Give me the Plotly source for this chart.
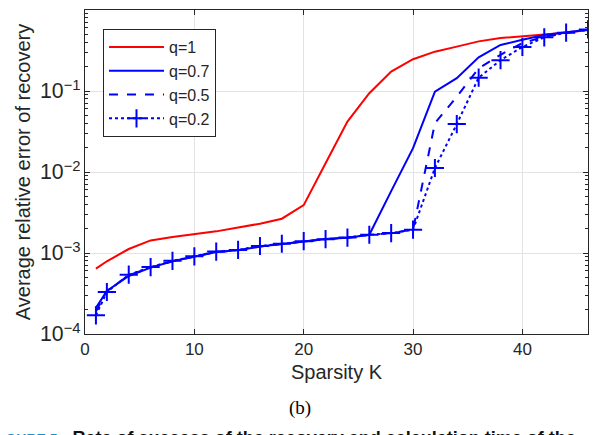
import plotly.graph_objects as go

sparsity = [1, 2, 4, 6, 8, 10, 12, 14, 16, 18, 20, 22, 24, 26, 28, 30, 32, 34, 36, 38, 40, 42, 44, 46]
err_q1 = [6.4e-4, 7.9e-4, 1.12e-3, 1.43e-3, 1.58e-3, 1.71e-3, 1.85e-3, 2.07e-3, 2.3e-3, 2.65e-3,
          3.9e-3, 1.28e-2, 4.2e-2, 9.4e-2, 0.174, 0.247, 0.306, 0.353, 0.41, 0.45, 0.47, 0.50, 0.525, 0.567]
err_q07 = [2.1e-4, 3.4e-4, 5.2e-4, 6.6e-4, 7.9e-4, 9.1e-4, 1.03e-3, 1.08e-3, 1.2e-3, 1.29e-3,
           1.39e-3, 1.49e-3, 1.54e-3, 1.68e-3, 5.8e-3, 1.97e-2, 9.8e-2, 0.144, 0.26, 0.37, 0.43, 0.49, 0.53, 0.57]
err_q05 = [1.9e-4, 3.4e-4, 5.3e-4, 6.6e-4, 7.9e-4, 9.1e-4, 1.03e-3, 1.08e-3, 1.2e-3, 1.29e-3,
           1.39e-3, 1.49e-3, 1.54e-3, 1.68e-3, 1.76e-3, 1.94e-3, 4.0e-2, 8.5e-2, 0.19, 0.28, 0.39, 0.47, 0.52, 0.57]
err_q02 = [1.7e-4, 3.3e-4, 5.4e-4, 6.7e-4, 8.0e-4, 9.1e-4, 1.04e-3, 1.09e-3, 1.22e-3, 1.3e-3,
           1.4e-3, 1.48e-3, 1.55e-3, 1.68e-3, 1.76e-3, 1.94e-3, 1.12e-2, 3.9e-2, 0.146, 0.24, 0.35, 0.46, 0.525, 0.575]

x_ticks = [0, 10, 20, 30, 40]
minor_y = [m * 10 ** e for e in range(-4, 0) for m in range(2, 10)]

RED = "#ff0000"
BLUE = "#0000ff"
AX = "#262626"
FONT = "Liberation Sans, Arial, sans-serif"

# the page has an 8px body margin; plot area in page pixels: x 85..588, y 10..334
W, H = 591, 427

def px_x(p):
    return (p - 85) / 503.0

def px_y(p):
    return (334 - p) / 324.0

fig = go.Figure()
fig.add_trace(go.Scatter(x=sparsity, y=err_q1, mode="lines", name="q=1",
                         line=dict(color=RED, width=2)))
fig.add_trace(go.Scatter(x=sparsity, y=err_q07, mode="lines", name="q=0.7",
                         line=dict(color=BLUE, width=2)))
fig.add_trace(go.Scatter(x=sparsity, y=err_q05, mode="lines", name="q=0.5",
                         line=dict(color=BLUE, width=2, dash="dash")))
fig.add_trace(go.Scatter(x=sparsity, y=err_q02, mode="lines+markers", name="q=0.2",
                         line=dict(color=BLUE, width=2, dash="dot"),
                         marker=dict(symbol="cross-thin", size=13,
                                     line=dict(color=BLUE, width=2))))

fig.update_layout(
    width=W, height=H,
    margin=dict(l=77, r=11, t=2, b=101, autoexpand=False),
    paper_bgcolor="white", plot_bgcolor="white",
    font=dict(family=FONT, size=16, color=AX),
    showlegend=True,
    legend=dict(x=px_x(103), y=px_y(29), xanchor="left", yanchor="top",
                bgcolor="white", bordercolor=AX, borderwidth=1,
                font=dict(size=16, color=AX), tracegroupgap=0, itemwidth=55),
)

fig.add_annotation(text="(b)", x=px_x(300), y=px_y(408), xref="paper", yref="paper",
                   xanchor="center", yanchor="middle", showarrow=False,
                   font=dict(family="Liberation Serif, Times New Roman, serif", size=19, color="black"))

fig.add_annotation(
    text=("<b><span style='color:#1a8fd0;font-size:14px'>FIGURE 5</span>&nbsp;&nbsp;&nbsp;"
          "Rate of success of the recovery and calculation time of the</b>"),
    x=px_x(-9), y=px_y(426), xref="paper", yref="paper",
    xanchor="left", yanchor="top", showarrow=False,
    font=dict(family=FONT, size=18, color="#111111"))

fig.update_xaxes(
    range=[0, 46], tickvals=x_ticks,
    showgrid=True, gridcolor="#e3e3e3", gridwidth=1,
    showline=True, linecolor=AX, linewidth=1, mirror="ticks",
    ticks="inside", ticklen=5, tickcolor=AX,
    zeroline=False,
    title=dict(text="Sparsity K", font=dict(size=20), standoff=6),
    tickfont=dict(size=17),
)
fig.update_yaxes(
    type="log", range=[-4, 0], dtick=1, exponentformat="power",
    showgrid=True, gridcolor="#e3e3e3", gridwidth=1,
    showline=True, linecolor=AX, linewidth=1, mirror="ticks",
    ticks="inside", ticklen=5, tickcolor=AX,
    zeroline=False,
    title=dict(text="Average relative error of recovery", font=dict(size=20), standoff=4),
    tickfont=dict(size=17),
)
# minor ticks via an overlaying log axis without labels
fig.update_layout(yaxis2=dict(
    type="log", range=[-4, 0], overlaying="y", side="left", anchor="x",
    tickvals=minor_y, showticklabels=False, ticks="inside", ticklen=3, tickcolor=AX,
    showgrid=False, zeroline=False, showline=True, linecolor=AX, mirror="ticks",
))
fig.add_trace(go.Scatter(x=[None], y=[None], yaxis="y2", showlegend=False, hoverinfo="skip"))

fig.write_html("out.html")
